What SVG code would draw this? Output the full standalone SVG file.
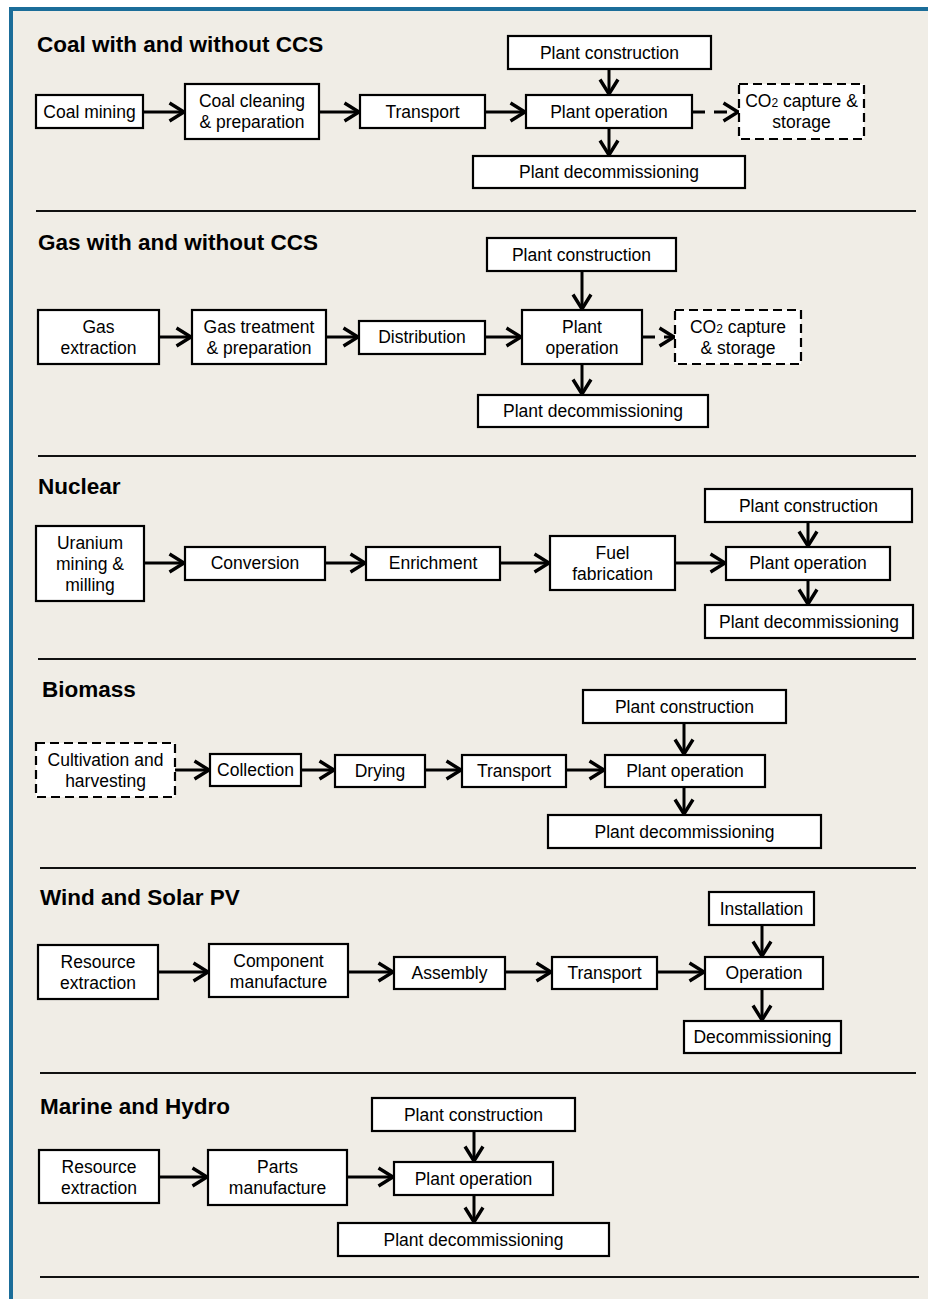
<svg xmlns="http://www.w3.org/2000/svg" width="928" height="1299" viewBox="0 0 928 1299">
<defs>
<style>
.bg{fill:#f0ede6}
.frame{fill:none;stroke:#1b6d99;stroke-width:4}
.b{fill:#fff;stroke:#000;stroke-width:2.2}
.d{fill:#fff;stroke:#000;stroke-width:2.2;stroke-dasharray:9 5}
.t{font-family:"Liberation Sans",Arial,sans-serif;font-size:17.5px;fill:#000;text-anchor:middle}
.h{font-family:"Liberation Sans",Arial,sans-serif;font-size:22.5px;font-weight:bold;fill:#000}
.sep{stroke:#111;stroke-width:2}
.a{stroke:#000;stroke-width:3;fill:none;marker-end:url(#ah)}
.ad{stroke:#000;stroke-width:3;fill:none;stroke-dasharray:13 9;marker-end:url(#ah)}
</style>
<marker id="ah" markerUnits="userSpaceOnUse" markerWidth="20" markerHeight="22" refX="17" refY="11" orient="auto">
<path d="M1.5,2 L16,11 L1.5,20" fill="none" stroke="#000" stroke-width="3.4"/>
</marker>
</defs>
<rect x="0" y="0" width="928" height="1299" fill="#fff"/>
<rect class="bg" x="11" y="9" width="917" height="1290"/>
<path class="frame" d="M11,1299 V9 H928"/>

<g id="separators">
<line class="sep" x1="36" y1="211" x2="916" y2="211"/>
<line class="sep" x1="38" y1="456" x2="916" y2="456"/>
<line class="sep" x1="38" y1="659" x2="916" y2="659"/>
<line class="sep" x1="40" y1="868" x2="916" y2="868"/>
<line class="sep" x1="40" y1="1073" x2="916" y2="1073"/>
<line class="sep" x1="40" y1="1277" x2="919" y2="1277"/>
</g>

<g id="titles">
<text class="h" x="37" y="52">Coal with and without CCS</text>
<text class="h" x="38" y="250">Gas with and without CCS</text>
<text class="h" x="38" y="494">Nuclear</text>
<text class="h" x="42" y="697">Biomass</text>
<text class="h" x="40" y="905">Wind and Solar PV</text>
<text class="h" x="40" y="1114">Marine and Hydro</text>
</g>

<g id="connectors">
<line class="a" x1="143" y1="112" x2="185" y2="112"/>
<line class="a" x1="319" y1="112" x2="360" y2="112"/>
<line class="a" x1="485" y1="112" x2="526" y2="112"/>
<line class="ad" x1="692" y1="112" x2="739" y2="112"/>
<line class="a" x1="609" y1="69" x2="609" y2="95"/>
<line class="a" x1="609" y1="128" x2="609" y2="156"/>

<line class="a" x1="159" y1="337" x2="192" y2="337"/>
<line class="a" x1="326" y1="337" x2="359" y2="337"/>
<line class="a" x1="485" y1="337" x2="522" y2="337"/>
<line class="ad" x1="642" y1="337" x2="675" y2="337"/>
<line class="a" x1="582" y1="271" x2="582" y2="310"/>
<line class="a" x1="582" y1="364" x2="582" y2="395"/>

<line class="a" x1="144" y1="563" x2="185" y2="563"/>
<line class="a" x1="325" y1="563" x2="366" y2="563"/>
<line class="a" x1="500" y1="563" x2="550" y2="563"/>
<line class="a" x1="675" y1="563" x2="726" y2="563"/>
<line class="a" x1="808" y1="522" x2="808" y2="547"/>
<line class="a" x1="808" y1="580" x2="808" y2="605"/>

<line class="a" x1="175" y1="770" x2="210" y2="770"/>
<line class="a" x1="301" y1="770" x2="335" y2="770"/>
<line class="a" x1="425" y1="770" x2="462" y2="770"/>
<line class="a" x1="566" y1="770" x2="605" y2="770"/>
<line class="a" x1="684" y1="723" x2="684" y2="755"/>
<line class="a" x1="684" y1="787" x2="684" y2="815"/>

<line class="a" x1="158" y1="972" x2="209" y2="972"/>
<line class="a" x1="348" y1="972" x2="394" y2="972"/>
<line class="a" x1="505" y1="972" x2="552" y2="972"/>
<line class="a" x1="657" y1="972" x2="705" y2="972"/>
<line class="a" x1="762" y1="925" x2="762" y2="957"/>
<line class="a" x1="762" y1="989" x2="762" y2="1021"/>

<line class="a" x1="159" y1="1177" x2="208" y2="1177"/>
<line class="a" x1="347" y1="1177" x2="394" y2="1177"/>
<line class="a" x1="474" y1="1131" x2="474" y2="1162"/>
<line class="a" x1="474" y1="1195" x2="474" y2="1223"/>
</g>

<g id="coal-mining"><rect class="b" x="36" y="95" width="107" height="33"/><text class="t" x="89.5" y="118">Coal mining</text></g>
<g id="coal-cleaning"><rect class="b" x="185" y="84" width="134" height="55"/><text class="t" x="252" y="107">Coal cleaning</text><text class="t" x="252" y="128">&amp; preparation</text></g>
<g id="coal-transport"><rect class="b" x="360" y="95" width="125" height="33"/><text class="t" x="422.5" y="118">Transport</text></g>
<g id="coal-construction"><rect class="b" x="508" y="36" width="203" height="33"/><text class="t" x="609.5" y="59">Plant construction</text></g>
<g id="coal-operation"><rect class="b" x="526" y="95" width="166" height="33"/><text class="t" x="609" y="118">Plant operation</text></g>
<g id="coal-ccs"><rect class="d" x="739" y="84" width="125" height="55"/><text class="t" x="801.5" y="107">CO<tspan font-size="12">2</tspan> capture &amp;</text><text class="t" x="801.5" y="128">storage</text></g>
<g id="coal-decommissioning"><rect class="b" x="473" y="156" width="272" height="32"/><text class="t" x="609" y="178">Plant decommissioning</text></g>

<g id="gas-extraction"><rect class="b" x="38" y="310" width="121" height="54"/><text class="t" x="98.5" y="333">Gas</text><text class="t" x="98.5" y="354">extraction</text></g>
<g id="gas-treatment"><rect class="b" x="192" y="310" width="134" height="54"/><text class="t" x="259" y="333">Gas treatment</text><text class="t" x="259" y="354">&amp; preparation</text></g>
<g id="gas-distribution"><rect class="b" x="359" y="321" width="126" height="33"/><text class="t" x="422" y="343">Distribution</text></g>
<g id="gas-construction"><rect class="b" x="487" y="238" width="189" height="33"/><text class="t" x="581.5" y="261">Plant construction</text></g>
<g id="gas-operation"><rect class="b" x="522" y="310" width="120" height="54"/><text class="t" x="582" y="333">Plant</text><text class="t" x="582" y="354">operation</text></g>
<g id="gas-ccs"><rect class="d" x="675" y="310" width="126" height="54"/><text class="t" x="738" y="333">CO<tspan font-size="12">2</tspan> capture</text><text class="t" x="738" y="354">&amp; storage</text></g>
<g id="gas-decommissioning"><rect class="b" x="478" y="395" width="230" height="32"/><text class="t" x="593" y="417">Plant decommissioning</text></g>

<g id="nuc-uranium"><rect class="b" x="36" y="526" width="108" height="75"/><text class="t" x="90" y="549">Uranium</text><text class="t" x="90" y="570">mining &amp;</text><text class="t" x="90" y="591">milling</text></g>
<g id="nuc-conversion"><rect class="b" x="185" y="547" width="140" height="33"/><text class="t" x="255" y="569">Conversion</text></g>
<g id="nuc-enrichment"><rect class="b" x="366" y="547" width="134" height="33"/><text class="t" x="433" y="569">Enrichment</text></g>
<g id="nuc-fuel"><rect class="b" x="550" y="536" width="125" height="54"/><text class="t" x="612.5" y="559">Fuel</text><text class="t" x="612.5" y="580">fabrication</text></g>
<g id="nuc-construction"><rect class="b" x="705" y="489" width="207" height="33"/><text class="t" x="808.5" y="512">Plant construction</text></g>
<g id="nuc-operation"><rect class="b" x="726" y="547" width="164" height="33"/><text class="t" x="808" y="569">Plant operation</text></g>
<g id="nuc-decommissioning"><rect class="b" x="705" y="605" width="208" height="33"/><text class="t" x="809" y="628">Plant decommissioning</text></g>

<g id="bio-cultivation"><rect class="d" x="36" y="743" width="139" height="54"/><text class="t" x="105.5" y="766">Cultivation and</text><text class="t" x="105.5" y="787">harvesting</text></g>
<g id="bio-collection"><rect class="b" x="210" y="754" width="91" height="32"/><text class="t" x="255.5" y="776">Collection</text></g>
<g id="bio-drying"><rect class="b" x="335" y="755" width="90" height="32"/><text class="t" x="380" y="777">Drying</text></g>
<g id="bio-transport"><rect class="b" x="462" y="755" width="104" height="32"/><text class="t" x="514" y="777">Transport</text></g>
<g id="bio-construction"><rect class="b" x="583" y="690" width="203" height="33"/><text class="t" x="684.5" y="713">Plant construction</text></g>
<g id="bio-operation"><rect class="b" x="605" y="755" width="160" height="32"/><text class="t" x="685" y="777">Plant operation</text></g>
<g id="bio-decommissioning"><rect class="b" x="548" y="815" width="273" height="33"/><text class="t" x="684.5" y="838">Plant decommissioning</text></g>

<g id="ws-resource"><rect class="b" x="38" y="945" width="120" height="54"/><text class="t" x="98" y="968">Resource</text><text class="t" x="98" y="989">extraction</text></g>
<g id="ws-component"><rect class="b" x="209" y="944" width="139" height="53"/><text class="t" x="278.5" y="967">Component</text><text class="t" x="278.5" y="988">manufacture</text></g>
<g id="ws-assembly"><rect class="b" x="394" y="957" width="111" height="32"/><text class="t" x="449.5" y="979">Assembly</text></g>
<g id="ws-transport"><rect class="b" x="552" y="957" width="105" height="32"/><text class="t" x="604.5" y="979">Transport</text></g>
<g id="ws-installation"><rect class="b" x="709" y="892" width="105" height="33"/><text class="t" x="761.5" y="915">Installation</text></g>
<g id="ws-operation"><rect class="b" x="705" y="957" width="118" height="32"/><text class="t" x="764" y="979">Operation</text></g>
<g id="ws-decommissioning"><rect class="b" x="684" y="1021" width="157" height="32"/><text class="t" x="762.5" y="1043">Decommissioning</text></g>

<g id="mh-resource"><rect class="b" x="39" y="1150" width="120" height="53"/><text class="t" x="99" y="1173">Resource</text><text class="t" x="99" y="1194">extraction</text></g>
<g id="mh-parts"><rect class="b" x="208" y="1150" width="139" height="55"/><text class="t" x="277.5" y="1173">Parts</text><text class="t" x="277.5" y="1194">manufacture</text></g>
<g id="mh-construction"><rect class="b" x="372" y="1098" width="203" height="33"/><text class="t" x="473.5" y="1121">Plant construction</text></g>
<g id="mh-operation"><rect class="b" x="394" y="1162" width="159" height="33"/><text class="t" x="473.5" y="1185">Plant operation</text></g>
<g id="mh-decommissioning"><rect class="b" x="338" y="1223" width="271" height="33"/><text class="t" x="473.5" y="1246">Plant decommissioning</text></g>
</svg>
